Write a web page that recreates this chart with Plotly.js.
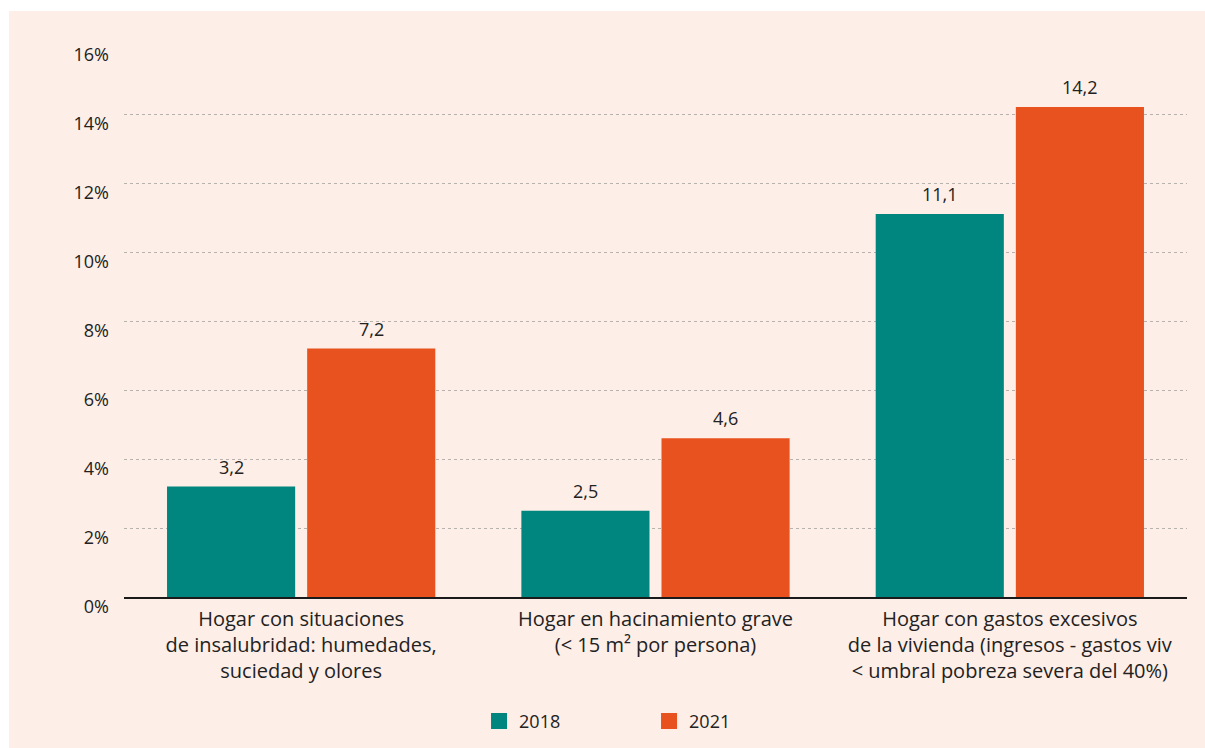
<!DOCTYPE html>
<html>
<head>
<meta charset="utf-8">
<script src="https://cdn.plot.ly/plotly-3.0.1.min.js"></script>
<style>
  html, body { margin: 0; padding: 0; background: #ffffff; }
  #bg { position: absolute; left: 9px; top: 11px; right: 0; bottom: 0; background: #FDEEE7; }
  #chart { position: absolute; left: 0; top: 0; width: 1205px; height: 748px; }
</style>
</head>
<body>
<div id="bg"></div>
<div id="chart"></div>
<script>
const categories = [
  "Hogar con situaciones<br>de insalubridad: humedades,<br>suciedad y olores",
  "Hogar en hacinamiento grave<br>(&lt; 15 m² por persona)",
  "Hogar con gastos excesivos<br>de la vivienda (ingresos - gastos viv<br>&lt; umbral pobreza severa del 40%)"
];
const seriesNames = ["2018", "2021"];
const values2018 = [3.2, 2.5, 11.1];
const values2021 = [7.2, 4.6, 14.2];
const yTickVals = [0, 2, 4, 6, 8, 10, 12, 14, 16];
const yTickText = ["0%", "2%", "4%", "6%", "8%", "10%", "12%", "14%", "16%"];

const colors = ["#00857F", "#E8521F"];
const FONT = "'Open Sans', Lato, sans-serif";
const TEXT = "#222222";

const allSeries = [values2018, values2021];
const traces = allSeries.map((vals, i) => ({
  type: "bar",
  name: seriesNames[i],
  x: categories,
  y: vals,
  marker: { color: colors[i] },
  showlegend: false,
  hoverinfo: "y"
}));
// legend entries (square markers)
seriesNames.forEach((n, i) => {
  traces.push({
    type: "scatter", mode: "markers", name: n,
    x: [null], y: [null],
    marker: { symbol: "square", size: 16, color: colors[i] },
    showlegend: true, hoverinfo: "skip"
  });
});

const bargap = 0.209;
const slot = (1 - bargap) / 2;
const annotations = [];
allSeries.forEach((vals, si) => {
  vals.forEach((v, ci) => {
    annotations.push({
      xref: "x", yref: "y",
      x: ci + (si === 0 ? -slot / 2 : slot / 2),
      y: v,
      text: v.toFixed(1).replace(".", ","),
      showarrow: false,
      yanchor: "middle",
      yshift: 20,
      font: { family: FONT, size: 18, color: TEXT }
    });
  });
});

const layout = {
  width: 1205, height: 748,
  margin: { l: 124, r: 18, t: 45, b: 151, autoexpand: false },
  paper_bgcolor: "rgba(0,0,0,0)",
  plot_bgcolor: "rgba(0,0,0,0)",
  barmode: "group",
  bargap: bargap,
  bargroupgap: 0.0857,
  separators: ",.",
  font: { family: FONT, color: TEXT },
  xaxis: {
    type: "category",
    showline: true, linecolor: "#1a1a1a", linewidth: 2,
    showgrid: false, zeroline: false,
    ticks: "",
    automargin: false,
    ticklabelstandoff: 3,
    tickfont: { family: FONT, size: 20, color: TEXT },
    fixedrange: true
  },
  yaxis: {
    range: [0, 16],
    tickvals: yTickVals, ticktext: yTickText,
    showgrid: true, gridcolor: "#b8b2ae", gridwidth: 1, griddash: "dot",
    zeroline: false, showline: false, ticks: "",
    automargin: false,
    tickfont: { family: FONT, size: 18, color: TEXT },
    ticklabelstandoff: 14,
    ticklabelshift: 10,
    fixedrange: true
  },
  legend: {
    orientation: "h",
    x: 0.334, xanchor: "left",
    y: -0.225, yanchor: "middle",
    entrywidth: 125, entrywidthmode: "pixels",
    font: { family: FONT, size: 18, color: TEXT },
    bgcolor: "rgba(0,0,0,0)"
  },
  annotations: annotations,
  showlegend: true
};

Plotly.newPlot("chart", traces, layout, { displayModeBar: false, staticPlot: true });
</script>
</body>
</html>
